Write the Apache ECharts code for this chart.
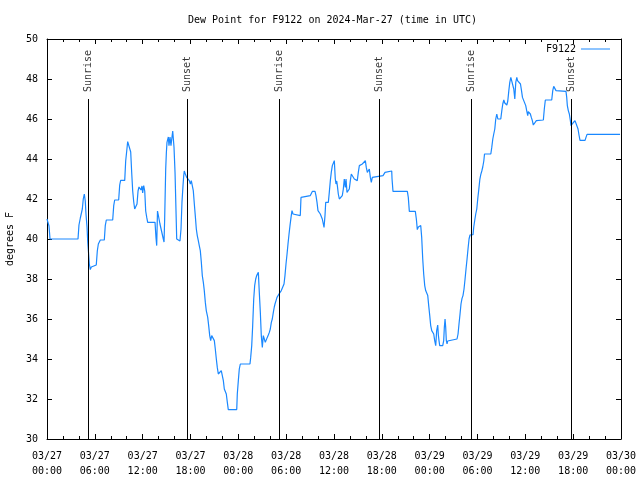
<!DOCTYPE html>
<html><head><meta charset="utf-8">
<script src="https://cdn.jsdelivr.net/npm/echarts@6/dist/echarts.min.js"></script>
<style>html,body{margin:0;padding:0;background:#fff}#c{width:640px;height:480px}</style>
</head><body><div id="c"></div>
<script>
const titleText = 'Dew Point for F9122 on 2024-Mar-27 (time in UTC)';
const seriesName = 'F9122';
const yAxisName = 'degrees F';
const tickLabels = ['03/27\n00:00','03/27\n06:00','03/27\n12:00','03/27\n18:00','03/28\n00:00','03/28\n06:00','03/28\n12:00','03/28\n18:00','03/29\n00:00','03/29\n06:00','03/29\n12:00','03/29\n18:00','03/30\n00:00'];
// hours since 03/27 00:00 UTC
const eventHours = [5.2, 17.6, 29.1, 41.7, 53.2, 65.8];
const eventNames = ['Sunrise','Sunset','Sunrise','Sunset','Sunrise','Sunset'];
const eventTop = 47.0;
// [hours since 03/27 00:00 UTC, dew point F]
const dewPoint = [[0,41.0],[0.16,40.9],[0.25,40.65],[0.38,40.0],[3.89,40.0],[4.01,40.7],[4.18,41.05],[4.30,41.15],[4.43,41.5],[4.55,42.0],[4.68,42.25],[4.80,41.9],[4.89,41.25],[5.02,40.6],[5.11,39.85],[5.23,39.2],[5.31,38.75],[5.43,38.47],[5.56,38.6],[5.68,38.7],[6.18,38.7],[6.31,39.4],[6.44,39.75],[6.56,39.85],[6.69,39.95],[7.19,39.95],[7.31,40.67],[7.44,40.95],[8.24,40.95],[8.37,41.67],[8.49,41.95],[8.99,41.95],[9.12,42.7],[9.24,42.93],[9.75,42.93],[9.87,43.9],[10.00,44.4],[10.12,44.87],[10.25,44.93],[10.37,44.87],[10.50,44.35],[10.62,43.35],[10.75,42.4],[10.88,41.85],[11.00,41.5],[11.25,41.5],[11.29,41.75],[11.42,42.4],[11.54,42.6],[11.67,42.7],[11.79,42.45],[11.92,42.65],[12.00,42.3],[12.13,42.67],[12.26,42.4],[12.38,41.4],[12.51,41.08],[12.63,40.83],[13.55,40.83],[13.67,40.08],[13.76,39.67],[13.86,41.4],[13.96,41.2],[14.17,40.75],[14.39,40.67],[14.59,40.0],[14.68,39.85],[14.76,41.0],[14.89,43.5],[14.97,44.3],[15.05,44.83],[15.22,45.1],[15.30,44.67],[15.43,45.1],[15.55,44.67],[15.77,45.4],[15.93,44.6],[16.06,43.33],[16.27,40.0],[16.68,39.9],[16.81,40.5],[16.93,41.83],[17.06,42.67],[17.15,43.17],[17.22,43.4],[17.35,43.25],[17.52,43.08],[17.69,43.0],[17.85,42.92],[17.98,42.75],[18.10,42.92],[18.23,42.92],[18.35,42.42],[18.48,41.75],[18.60,41.17],[18.73,40.5],[18.85,40.17],[18.98,39.92],[19.10,39.67],[19.23,39.42],[19.36,38.83],[19.48,38.17],[19.61,37.83],[19.73,37.42],[19.86,36.83],[19.98,36.42],[20.16,36.08],[20.28,35.67],[20.41,35.17],[20.53,34.92],[20.66,35.17],[20.86,35.17],[20.99,34.92],[21.11,34.5],[21.24,34.0],[21.36,33.58],[21.49,33.25],[21.61,33.17],[21.74,33.33],[21.86,33.42],[21.99,33.17],[22.12,32.92],[22.24,32.5],[22.37,32.42],[22.49,32.25],[22.62,31.83],[22.74,31.47],[23.80,31.47],[23.87,32.25],[24.00,32.92],[24.12,33.5],[24.25,33.75],[25.46,33.75],[25.55,34.08],[25.68,34.67],[25.80,35.67],[25.93,37.0],[26.05,37.67],[26.18,38.0],[26.30,38.17],[26.43,38.25],[26.51,38.33],[26.63,37.33],[26.76,36.33],[26.88,35.17],[27.01,34.58],[27.13,35.17],[27.26,35.0],[27.38,34.83],[27.51,34.9],[27.63,35.08],[27.76,35.2],[27.89,35.33],[28.01,35.5],[28.14,35.83],[28.26,36.0],[28.39,36.33],[28.51,36.6],[28.60,36.75],[28.73,36.92],[28.85,37.08],[28.98,37.15],[29.10,37.25],[29.39,37.42],[29.60,37.42],[29.73,37.75],[29.85,38.17],[29.98,38.75],[30.11,39.25],[30.23,39.75],[30.36,40.25],[30.48,40.67],[30.61,41.08],[30.73,41.42],[30.86,41.25],[30.98,41.17],[31.77,41.17],[31.86,42.08],[31.99,42.17],[33.03,42.17],[33.15,42.25],[33.28,42.38],[33.62,42.38],[33.74,42.17],[33.87,41.83],[33.99,41.42],[34.16,41.35],[34.28,41.25],[34.41,41.17],[34.53,41.0],[34.66,40.75],[34.75,40.58],[34.87,41.17],[34.96,41.83],[35.29,41.83],[35.41,42.33],[35.54,42.92],[35.66,43.33],[35.79,43.67],[35.91,43.75],[36.04,43.92],[36.16,43.0],[36.25,42.75],[36.34,42.9],[36.42,42.67],[36.54,42.25],[36.67,42.0],[36.92,42.0],[37.04,42.17],[37.17,42.5],[37.29,43.0],[37.42,42.58],[37.51,43.0],[37.63,42.33],[37.76,42.33],[37.92,42.5],[38.05,42.92],[38.17,43.25],[38.42,43.17],[38.55,43.0],[38.80,42.92],[38.92,42.92],[39.05,43.33],[39.18,43.67],[39.43,43.67],[39.55,43.75],[39.80,43.83],[39.93,43.92],[40.05,43.58],[40.18,43.33],[40.30,43.42],[40.43,43.5],[40.56,43.08],[40.68,42.83],[40.81,43.08],[40.93,43.17],[42.15,43.17],[42.27,43.25],[42.40,43.33],[42.52,43.4],[43.24,43.4],[43.28,43.0],[43.40,42.38],[45.20,42.38],[45.32,42.08],[45.45,41.38],[46.20,41.38],[46.33,41.0],[46.45,40.47],[46.58,40.6],[46.70,40.67],[46.88,40.67],[47.00,40.08],[47.13,39.0],[47.25,38.25],[47.38,37.67],[47.50,37.42],[47.63,37.4],[47.76,37.17],[47.88,36.67],[48.01,36.17],[48.13,35.67],[48.26,35.42],[48.38,35.42],[48.51,35.25],[48.63,34.92],[48.76,34.67],[48.88,35.42],[49.01,35.7],[49.09,35.2],[49.17,34.92],[49.26,34.67],[49.64,34.67],[49.76,34.92],[49.84,35.58],[49.93,36.0],[50.01,35.58],[50.09,34.92],[50.18,34.75],[50.26,34.9],[50.34,35.0],[51.43,35.0],[51.56,35.25],[51.68,35.75],[51.81,36.25],[51.93,36.75],[52.06,37.03],[52.18,37.17],[52.31,37.5],[52.44,38.0],[52.56,38.5],[52.69,39.0],[52.81,39.5],[52.94,40.0],[53.06,40.2],[53.44,40.22],[53.53,40.6],[53.66,40.95],[53.78,41.25],[53.91,41.5],[54.03,42.0],[54.16,42.47],[54.29,42.97],[54.41,43.22],[54.54,43.4],[54.66,43.6],[54.79,43.9],[54.88,44.25],[55.67,44.25],[55.79,44.58],[55.92,45.0],[56.04,45.25],[56.17,45.5],[56.29,46.0],[56.42,46.25],[56.55,46.0],[56.92,46.0],[57.05,46.42],[57.17,46.75],[57.30,46.95],[57.42,46.8],[57.55,46.7],[57.68,46.7],[57.80,46.9],[57.93,47.42],[58.05,47.83],[58.18,48.08],[58.43,48.08],[58.55,47.5],[58.68,47.0],[58.80,47.83],[58.93,48.08],[59.02,47.92],[59.14,47.87],[59.27,47.83],[59.39,47.75],[59.52,47.42],[59.64,47.08],[59.88,47.0],[60.05,46.67],[60.17,46.42],[60.30,46.17],[60.37,46.37],[60.50,46.37],[60.63,46.25],[60.75,46.08],[60.88,45.92],[61.00,45.7],[61.13,45.67],[61.25,45.8],[61.38,45.92],[61.50,45.95],[62.26,45.95],[62.38,46.5],[62.51,46.95],[63.31,46.95],[63.44,47.42],[63.56,47.63],[63.72,47.63],[63.85,47.42],[63.97,47.38],[65.10,47.38],[65.19,47.08],[65.27,46.67],[65.39,46.42],[65.52,46.25],[65.65,45.92],[65.73,45.67],[65.86,45.75],[65.98,45.8],[66.11,45.83],[66.23,45.92],[66.36,45.95],[66.48,45.83],[66.61,45.5],[66.73,45.2],[66.86,44.93],[67.49,44.93],[67.61,45.08],[67.74,45.23],[71.88,45.23]];

const FONT = 'DejaVu Sans Mono';
const LINE_COLOR = '#1a88ff';
const chart = echarts.init(document.getElementById('c'), null, {renderer: 'canvas'});
const baseX = {
  type: 'value', min: 0, max: 72, interval: 6,
  axisLine: {show: true, onZero: false, lineStyle: {color: '#000', width: 1}},
  axisTick: {show: true, inside: true, length: 5, lineStyle: {color: '#000'}},
  minorTick: {show: true, splitNumber: 3, length: 3, lineStyle: {color: '#000'}},
  splitLine: {show: false}
};
const baseY = {
  type: 'value', min: 30, max: 50, interval: 2,
  axisLine: {show: true, onZero: false, lineStyle: {color: '#000', width: 1}},
  axisTick: {show: true, inside: true, length: 5, lineStyle: {color: '#000'}},
  splitLine: {show: false}
};
chart.setOption({
  animation: false,
  backgroundColor: '#fff',
  title: {text: titleText, left: 188, top: 15, padding: 0,
    textStyle: {fontFamily: FONT, fontSize: 10, fontWeight: 'normal', color: '#000'}},
  legend: {data: [seriesName], right: 25, top: 39, align: 'right', icon: 'rect',
    itemWidth: 29, itemHeight: 1, itemGap: 6,
    textStyle: {fontFamily: FONT, fontSize: 10, color: '#000'}},
  grid: {left: 47, right: 19, top: 39, bottom: 41, containLabel: false, outerBoundsMode: 'none'},
  xAxis: [
    Object.assign({}, baseX, {position: 'bottom',
      axisLabel: {show: true, margin: 10, lineHeight: 15, fontFamily: FONT, fontSize: 10, color: '#000',
        formatter: v => tickLabels[Math.round(v / 6)] || ''}}),
    Object.assign({}, baseX, {position: 'top', axisLabel: {show: false}})
  ],
  yAxis: [
    Object.assign({}, baseY, {position: 'left', name: yAxisName, nameLocation: 'middle', nameGap: 32,
      nameRotate: 90, nameTextStyle: {fontFamily: FONT, fontSize: 10, color: '#000'},
      axisLabel: {show: true, margin: 9, fontFamily: FONT, fontSize: 10, color: '#000'}}),
    Object.assign({}, baseY, {position: 'right', axisLabel: {show: false}})
  ],
  series: [
    {
      name: seriesName, type: 'line', data: dewPoint, showSymbol: false, symbol: 'none',
      color: LINE_COLOR, lineStyle: {color: LINE_COLOR, width: 1.2}, z: 3,
      markLine: {
        silent: true, symbol: ['none', 'none'], animation: false,
        label: {show: false},
        lineStyle: {color: '#000', width: 1, type: 'solid'},
        data: eventHours.map(h => [{coord: [h, eventTop]}, {coord: [h, 30]}])
      }
    },
    {
      name: 'events', type: 'scatter', symbolSize: 0, silent: true,
      data: eventHours.map((h, i) => ({value: [h, eventTop], name: eventNames[i]})),
      label: {show: true, formatter: p => p.name, position: [0, -7], rotate: 90,
        align: 'left', verticalAlign: 'middle', fontFamily: FONT, fontSize: 10, color: '#000'}
    }
  ]
});
</script></body></html>
